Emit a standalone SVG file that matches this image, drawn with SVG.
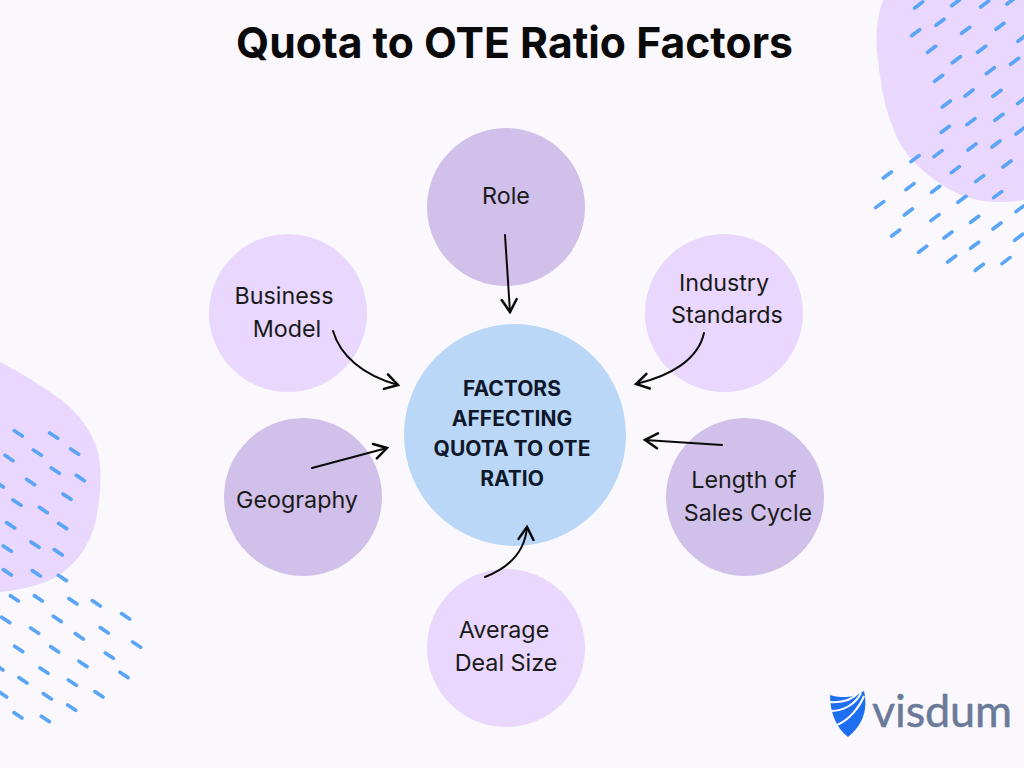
<svg xmlns="http://www.w3.org/2000/svg" width="1024" height="768" viewBox="0 0 1024 768">
<style>
.blob{fill:#E9D7FE}
.d{fill:none;stroke:#5BA5F7;stroke-width:11;stroke-linecap:round}
.l{fill:#E9D7FE}.k{fill:#D1C0EA}.c{fill:#BBD7F7}
text{font-family:Inter,"Noto Sans",sans-serif}
.t{font-size:23.3px;font-weight:400;fill:#1a1a1a;text-anchor:middle}
.b{font-size:21px;font-weight:700;fill:#0f172a;text-anchor:middle}
.a{fill:none;stroke:#0a0a0a;stroke-width:2;stroke-linecap:round;marker-end:url(#h)}
</style>
<defs><marker id="h" markerUnits="userSpaceOnUse" markerWidth="20" markerHeight="20" refX="14" refY="8" orient="auto" viewBox="0 0 16 16"><path d="M4 2L14 8L4 14" fill="none" stroke="#0a0a0a" stroke-width="2" stroke-linecap="round"/></marker></defs>
<rect width="1024" height="768" fill="#FAF8FC"/>
<g id="decor">
<path class="blob" d="M883 0C876 20 875 40 878 60C881 85 884 105 892 125C900 150 915 165 935 180C955 195 975 202 1000 202C1010 202 1018 201 1024 200V0Z"/>
<path class="blob" d="M0 362C20 372 40 385 60 399C80 414 92 432 98 452C102 470 101 495 96 520C90 545 78 562 58 576C40 586 20 590 0 592Z"/>
<path class="d" transform="translate(820 0) scale(.3333)" d="M284 24l24-18M395 17l24-18M482 21l24-18M561 12l24-18M348 76l24-18M528 88l24-18M425 100l24-18M275 107l24-18M594 124l24-18M323 157l24-18M473 157l24-18M397 188l24-18M572 193l24-18M499 221l24-18M344 244l24-18M435 288l24-18M519 289l24-18M367 321l24-18M593 311l24-18M441 374l24-18M525 361l24-18M364 397l24-18M588 402l24-18M444 450l24-18M516 441l24-18M342 470l24-18M273 485l24-18M549 501l24-18M394 518l24-18M467 545l24-18M190 534l24-18M258 569l24-18M335 577l24-18M521 593l24-18M414 607l24-18M588 635l24-18M167 623l24-18M253 645l24-18M333 662l24-18M452 667l24-18M519 687l24-18M584 721l24-18M215 708l24-18M372 714l24-18M452 745l24-18M296 757l24-18M383 786l24-18M546 791l24-18M466 811l24-18"/>
<path class="d" transform="translate(0 350) scale(.3333)" d="M43 242l24 16M149 249l24 16M100 300l24 16M212 297l24 16M15 316l24 16M154 354l24 16M229 376l24 16M80 388l24 16M-14 395l24 16M189 432l24 16M39 450l24 16M118 472l24 16M20 518l24 16M176 520l24 16M10 588l24 16M93 576l24 16M163 599l24 16M10 659l24 16M97 662l24 16M175 676l24 16M31 737l24 16M103 737l24 16M207 746l24 16M277 752l24 16M365 791l24 16M160 799l24 16M5 802l24 16M92 834l24 16M301 833l24 16M226 851l24 16M398 876l24 16M44 889l24 16M152 890l24 16M316 909l24 16M237 934l24 16M120 954l24 16M-15 944l24 16M360 967l24 16M57 983l24 16M205 990l24 16M285 1025l24 16M130 1031l24 16M-4 1025l24 16M203 1065l24 16M42 1088l24 16M124 1099l24 16"/>
</g>
<text id="title" x="514.5" y="58" text-anchor="middle" font-size="43" font-weight="700" fill="#0a0a0a" textLength="557" lengthAdjust="spacingAndGlyphs">Quota to OTE Ratio Factors</text>
<g id="n-role"><circle class="k" cx="506" cy="207" r="79"/><text class="t" x="506" y="204">Role</text></g>
<g id="n-business"><circle class="l" cx="288" cy="313" r="79"/><text class="t" x="284" y="304">Business</text><text class="t" x="287" y="337">Model</text></g>
<g id="n-industry"><circle class="l" cx="724" cy="313" r="79"/><text class="t" x="724" y="291">Industry</text><text class="t" x="727" y="323">Standards</text></g>
<g id="n-geography"><circle class="k" cx="303" cy="497" r="79"/><text class="t" x="297" y="508">Geography</text></g>
<g id="n-length"><circle class="k" cx="745" cy="497" r="79"/><text class="t" x="744" y="488">Length of</text><text class="t" x="748" y="521">Sales Cycle</text></g>
<g id="n-deal"><circle class="l" cx="506" cy="648" r="79"/><text class="t" x="504" y="638">Average</text><text class="t" x="506" y="671">Deal Size</text></g>
<g id="n-center"><circle class="c" cx="515" cy="435" r="111"/><text class="b" x="512" y="396">FACTORS</text><text class="b" x="512" y="426">AFFECTING</text><text class="b" x="512" y="456">QUOTA TO OTE</text><text class="b" x="512" y="486">RATIO</text></g>
<g id="connectors">
<path class="a" d="M505 235L510 312"/>
<path class="a" d="M333 331C340 355 362 375 398 385"/>
<path class="a" d="M704 333C698 360 670 376 636 384"/>
<path class="a" d="M312 468L387 448"/>
<path class="a" d="M722 445L645 440"/>
<path class="a" d="M485 577C508 568 525 552 527 527"/>
</g>
<g id="logo">
<path d="M830 695C842 699 856 697 864 691C868 708 864 724 848 737C836 728 830 712 830 695Z" fill="#1E6FF0"/>
<path d="M830 702C843 703 853 699 859 692M831 711C845 711 856 703 861 693M837 725C849 720 859 708 864 696" fill="none" stroke="#fff" stroke-width="2"/>
<text x="872" y="727" font-size="45" style="font-family:Lato,sans-serif" fill="#6B7A99" stroke="#6B7A99" stroke-width=".5" textLength="140">visdum</text>
</g>
</svg>
